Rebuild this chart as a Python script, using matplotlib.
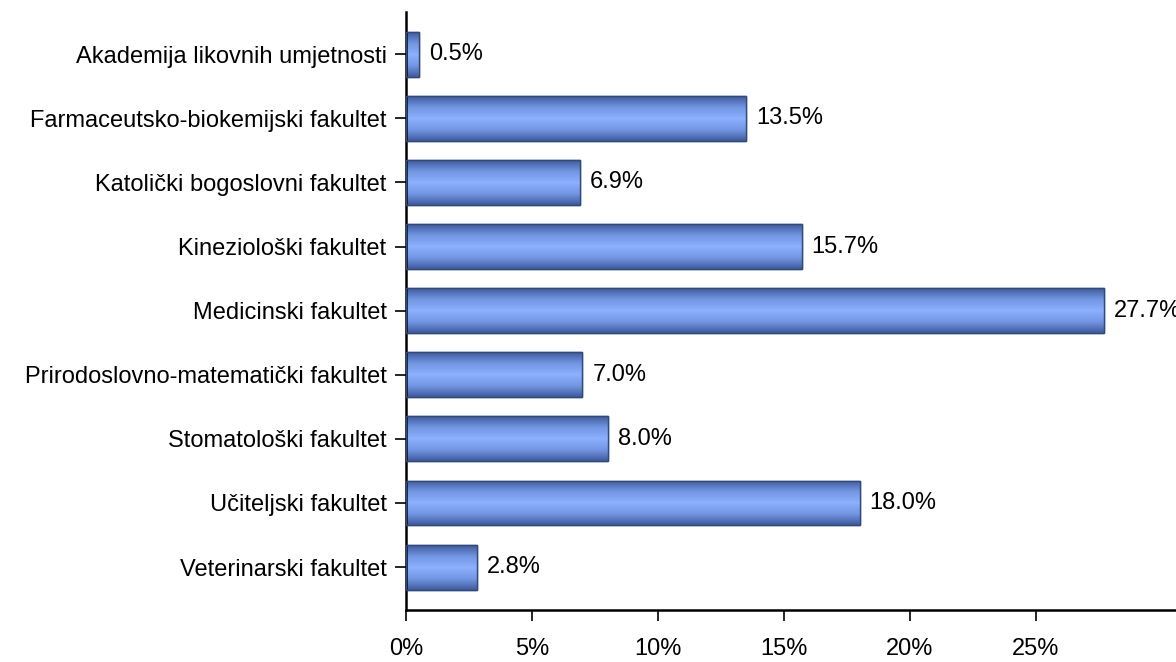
import matplotlib.pyplot as plt
import numpy as np
from matplotlib.colors import LinearSegmentedColormap

plt.rcParams['font.family'] = ['Liberation Sans', 'DejaVu Sans']

faculties = [
    "Akademija likovnih umjetnosti",
    "Farmaceutsko-biokemijski fakultet",
    "Katolički bogoslovni fakultet",
    "Kineziološki fakultet",
    "Medicinski fakultet",
    "Prirodoslovno-matematički fakultet",
    "Stomatološki fakultet",
    "Učiteljski fakultet",
    "Veterinarski fakultet",
]
shares = [0.5, 13.5, 6.9, 15.7, 27.7, 7.0, 8.0, 18.0, 2.8]
xticks = [0, 5, 10, 15, 20, 25]

fig = plt.figure(figsize=(11.76, 6.62), dpi=100)
ax = fig.add_axes([0.3452, 0.0785, 0.6548, 0.9034])

ypos = np.arange(len(faculties))
bars = ax.barh(ypos, shares, height=0.7, color="#7f9ff0",
               edgecolor="#2e4a7e", linewidth=1.0, zorder=2)

# vertical shading on each bar: darker edges, light middle
cmap = LinearSegmentedColormap.from_list(
    "shade", ["#3f5a9c", "#7296e2", "#8db0ff", "#7296e2", "#3f5a9c"])
grad = np.linspace(0, 1, 256).reshape(-1, 1)
for b in bars:
    x0, y0 = b.get_x(), b.get_y()
    w, h = b.get_width(), b.get_height()
    im = ax.imshow(grad, cmap=cmap, aspect="auto", zorder=2.5,
                   extent=[x0, x0 + w, y0 + h, y0], interpolation="bilinear")
    im.set_clip_path(b)
    ax.add_patch(plt.Rectangle((x0, y0), w, h, fill=False,
                               edgecolor="#2e4a7e", linewidth=1.0, zorder=3))

for y, v in zip(ypos, shares):
    ax.text(v + 0.4, y, f"{v:.1f}%", va="center", ha="left", fontsize=17,
            clip_on=False)

ax.set_xlim(0, 30.56)
ax.set_ylim(8.67, -0.66)
ax.set_yticks(ypos)
ax.set_yticklabels(faculties, fontsize=17)
ax.set_xticks(xticks)
ax.set_xticklabels([f"{t}%" for t in xticks], fontsize=17)
ax.tick_params(axis="both", length=8, width=1.2, direction="out")
ax.tick_params(axis="y", pad=6)
ax.tick_params(axis="x", pad=12)
ax.spines["top"].set_visible(False)
ax.spines["right"].set_visible(False)
ax.spines["left"].set_linewidth(1.8)
ax.spines["bottom"].set_linewidth(1.8)

fig.savefig("out.png", dpi=100)
